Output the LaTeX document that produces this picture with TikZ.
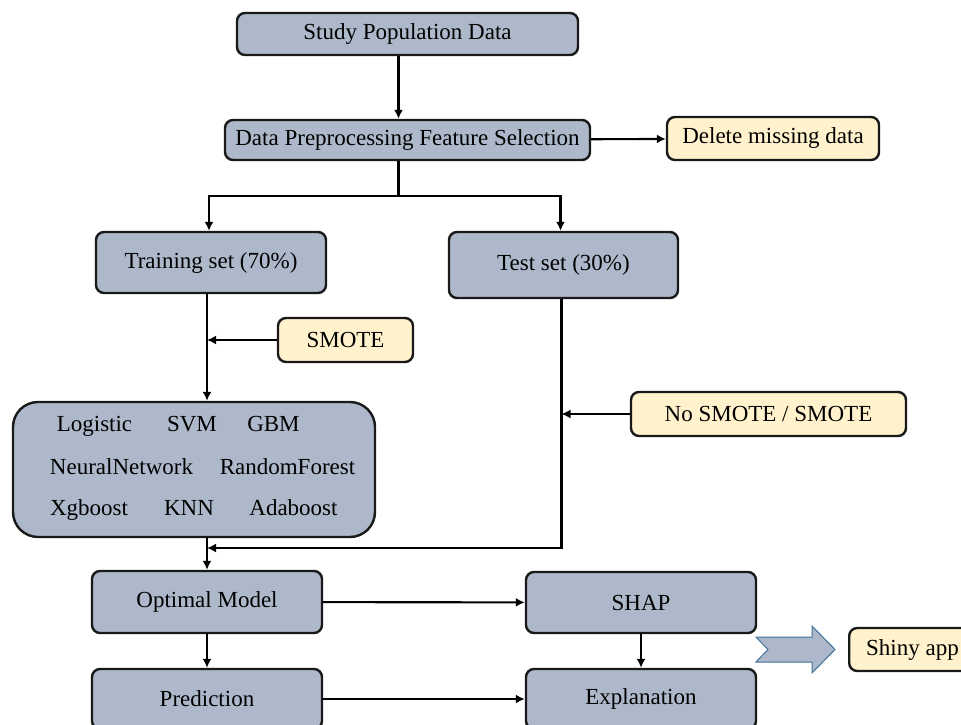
\documentclass[tikz,border=0pt]{standalone}
\usepackage{fontspec}
\setmainfont{Liberation Serif}
\usepackage{tikz}
\usetikzlibrary{arrows.meta,positioning}
\definecolor{boxblue}{HTML}{ADB9CA}
\definecolor{noteyellow}{HTML}{FFF2CC}
\definecolor{arrowedge}{HTML}{41719C}
\begin{document}
\begin{tikzpicture}[
  x=1pt, y=-1pt,
  font=\fontsize{23}{27}\selectfont,
  box/.style={draw=black!90, line width=2.4pt, rounded corners=8pt, fill=boxblue, align=center, inner sep=0pt},
  note/.style={box, fill=noteyellow},
  mtext/.style={inner sep=0pt, anchor=base},
  arr/.style={-{Latex[length=9pt,width=9pt]}, line width=2.1pt}
]
\clip (0,0) rectangle (961,725);
\node[box, minimum width=341pt, minimum height=42pt] (study) at (407.5,34) {Study Population Data};
\node[box, minimum width=365pt, minimum height=40pt] (prep) at (407.5,140) {Data Preprocessing Feature Selection};
\node[note, minimum width=212pt, minimum height=43pt] (delete) at (773,138.5) {Delete missing data};
\node[box, minimum width=230pt, minimum height=61pt] (train) at (211,262.5) {Training set (70\%)};
\node[box, minimum width=229pt, minimum height=66pt] (test) at (563.5,265) {Test set (30\%)};
\node[note, minimum width=135pt, minimum height=44pt] (smote) at (345.5,340) {SMOTE};
\node[box, rounded corners=25pt, minimum width=362pt, minimum height=135pt] (models) at (194,469.5) {};
\foreach \n/\t/\x/\y in {logit/Logistic/94.5/431, svm/SVM/192/431, gbm/GBM/273.5/431,
    nnet/NeuralNetwork/121.5/474, rf/RandomForest/287.5/474,
    xgb/Xgboost/89/515, knn/KNN/189/515, ada/Adaboost/293.5/515}
  \node[mtext] (\n) at (\x,\y) {\t};
\node[note, minimum width=275pt, minimum height=44pt] (nosmote) at (768.5,414) {No SMOTE / SMOTE};
\node[box, minimum width=230pt, minimum height=62pt] (optimal) at (207,602) {Optimal Model};
\node[box, minimum width=230pt, minimum height=61pt] (shap) at (641,602.5) {SHAP};
\node[box, minimum width=230pt, minimum height=60pt] (pred) at (207,699) {Prediction};
\node[box, minimum width=230pt, minimum height=60pt] (expl) at (641,699) {Explanation};
\node[note, anchor=west, inner xsep=17pt, minimum height=43pt] (shiny) at (848,649.5) {Shiny app};
% block arrow to the app
\draw[arrowedge, line width=1pt, fill=boxblue] (756,637) -- (812,637) -- (812,626) -- (835,649.5)
  -- (812,673) -- (812,662) -- (756,662) -- (768,649.5) -- cycle;
% connectors
\coordinate (studyout) at ([xshift=-9pt]study.south);
\coordinate (prepout) at ([xshift=-9pt]prep.south);
\coordinate (trainout) at ([xshift=-4pt]train.south);
\coordinate (testout) at ([xshift=-2pt]test.south);
\draw[arr] (studyout) -- (studyout |- prep.north);
\draw[arr] (prep) -- (delete);
\draw[line width=2.1pt] (prepout) -- ++(0,35) coordinate (split);
\draw[arr] (split) -| ([xshift=-2pt]train.north);
\draw[arr] (split) -| ([xshift=-3pt]test.north);
\draw[arr] (trainout) -- (trainout |- models.north);
\draw[arr] (smote.west) -- (smote.west -| trainout);
\coordinate (join) at (207,548);
\draw[arr] (testout) |- (join);
\draw[arr] (nosmote.west) -- (nosmote.west -| testout);
\draw[arr] (optimal.north |- models.south) -- (optimal.north);
\draw[arr] (optimal) -- (shap);
\draw[arr] (optimal) -- (pred);
\draw[arr] (shap) -- (expl);
\draw[arr] (pred) -- (expl);
\end{tikzpicture}
\end{document}
